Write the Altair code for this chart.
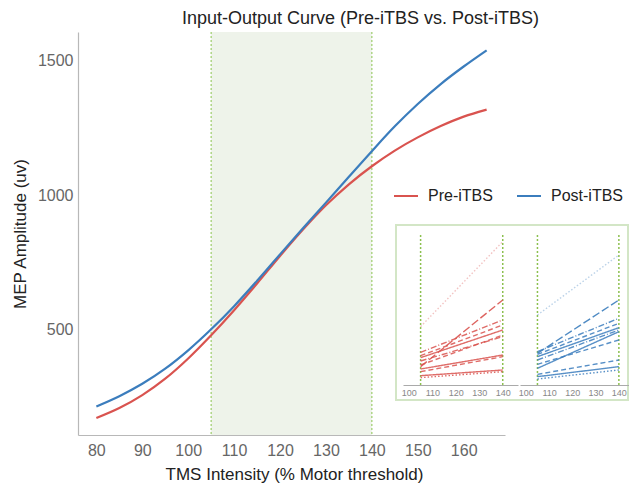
import altair as alt
import pandas as pd

# ---- main curves ----
intensity = [80, 85, 90, 95, 100, 105, 110, 115, 120, 125, 130, 135, 140, 145, 150, 155, 160, 165]
pre_mep = [173, 210, 258, 319, 394, 480, 573, 672, 774, 872, 962, 1040, 1107, 1165, 1214, 1256, 1291, 1317]
post_mep = [216, 254, 300, 356, 424, 502, 588, 682, 780, 877, 972, 1068, 1163, 1255, 1338, 1412, 1477, 1537]
conditions = ["Pre-iTBS", "Post-iTBS"]
colors = ["#d9534f", "#3b7dbd"]

# highlighted window (% MT)
window_start = [105]
window_end = [140]

# ---- inset: individual subjects, 105 -> 140 % MT (arbitrary units) ----
inset_x = [105, 140]
pre_start = [175, 55, 98, 88, 82, 72, 60, 48, 40, 28, 22]
pre_end = [430, 255, 195, 180, 165, 145, 150, 90, 85, 45, 40]
post_start = [210, 95, 100, 92, 85, 75, 62, 50, 32, 25, 18]
post_end = [390, 255, 200, 185, 172, 165, 135, 160, 75, 55, 45]
dash_style = ["dot", "longdash", "dashdot", "dash", "solid", "dashdot", "dash", "solid", "dash", "solid", "dot"]
line_alpha = [0.35, 0.9, 0.85, 0.85, 0.85, 0.85, 0.85, 0.85, 0.85, 0.85, 0.85]
inset_ticks = [100, 110, 120, 130, 140]

FONT = "Liberation Sans"
W, H = 427, 403

curves = pd.DataFrame({
    "intensity": intensity * 2,
    "mep": pre_mep + post_mep,
    "condition": [conditions[0]] * len(intensity) + [conditions[1]] * len(intensity),
})
shade_df = pd.DataFrame({"intensity": window_start, "intensity_end": window_end})
rules_df = pd.DataFrame({"intensity": window_start + window_end})

def subj_df(starts, ends):
    rows = []
    for i, (s, e) in enumerate(zip(starts, ends)):
        rows.append({"subject": i, "intensity": inset_x[0], "value": s, "dash": dash_style[i], "alpha": line_alpha[i]})
        rows.append({"subject": i, "intensity": inset_x[1], "value": e, "dash": dash_style[i], "alpha": line_alpha[i]})
    return pd.DataFrame(rows)

pre_df = subj_df(pre_start, pre_end)
post_df = subj_df(post_start, post_end)
inset_rules = pd.DataFrame({"intensity": inset_x})

x_scale = alt.Scale(domain=[76, 169], nice=False, zero=False)
y_scale = alt.Scale(domain=[110, 1605], nice=False, zero=False)
x_axis = alt.Axis(values=list(range(80, 161, 10)), title="TMS Intensity (% Motor threshold)",
                  labelFontSize=16, titleFontSize=17, labelColor="#666", titleColor="#222",
                  labelFont=FONT, titleFont=FONT, titleFontWeight="normal",
                  domainColor="#b8b8b8", domainWidth=1.2, ticks=False, grid=False,
                  labelPadding=7, titlePadding=8, titleX=216, titleAlign="center")
y_axis = alt.Axis(values=[500, 1000, 1500], format="d", title="MEP Amplitude (uv)",
                  labelFontSize=16, titleFontSize=17, labelColor="#666", titleColor="#222",
                  labelFont=FONT, titleFont=FONT, titleFontWeight="normal",
                  domainColor="#b8b8b8", domainWidth=1.2, ticks=False, grid=False,
                  labelPadding=5, titlePadding=8)

shade = alt.Chart(shade_df).mark_rect(color="#eef3ea").encode(
    x=alt.X("intensity:Q", scale=x_scale, axis=x_axis),
    x2="intensity_end:Q",
)
vrules = alt.Chart(rules_df).mark_rule(color="#9ccc6a", strokeDash=[2, 2], strokeWidth=1.2).encode(
    x=alt.X("intensity:Q", scale=x_scale, axis=x_axis),
)
lines = alt.Chart(curves).mark_line(strokeWidth=2.2, interpolate="monotone").encode(
    x=alt.X("intensity:Q", scale=x_scale, axis=x_axis),
    y=alt.Y("mep:Q", scale=y_scale, axis=y_axis),
    color=alt.Color("condition:N", sort=conditions,
                    scale=alt.Scale(domain=conditions, range=colors),
                    legend=alt.Legend(orient="none", legendX=315, legendY=151, direction="horizontal",
                                      title=None, symbolType="stroke", symbolSize=576,
                                      symbolStrokeWidth=2, labelFontSize=16, labelFont=FONT,
                                      labelColor="#222", labelOffset=9, columnPadding=20, padding=0)),
)
main = alt.layer(shade, vrules, lines)

box = alt.Chart(pd.DataFrame({"k": [0]})).mark_rect(fill="white", stroke="#d3e6c6", strokeWidth=2).encode(
    x=alt.value(318), x2=alt.value(550), y=alt.value(193), y2=alt.value(368)
)

inset_y = alt.Scale(domain=[0, 450], range=[353, 203], nice=False, zero=False)
dash_scale = alt.Scale(domain=["solid", "dash", "longdash", "dashdot", "dot"],
                       range=[[1, 0], [5, 3], [8, 3], [6, 2, 1, 2], [1.5, 2]])

def panel(df, x_range, color):
    xs = alt.Scale(domain=[97.5, 146.5], range=x_range, nice=False, zero=False)
    ax = alt.Axis(values=inset_ticks, orient="bottom", offset=-50, title=None, labelFontSize=9,
                  labelFont=FONT, labelColor="#888", domainColor="#aaa", ticks=False, grid=False,
                  labelPadding=3, zindex=2)
    r = alt.Chart(inset_rules).mark_rule(color="#8cc04f", strokeDash=[2, 2], strokeWidth=1.5).encode(
        x=alt.X("intensity:Q", scale=xs, axis=ax),
        y=alt.Y(datum=450, scale=inset_y, axis=None),
        y2=alt.Y2(datum=-5),
    )
    ln = alt.Chart(df).mark_line(color=color, strokeWidth=1.4).encode(
        x=alt.X("intensity:Q", scale=xs, axis=ax),
        y=alt.Y("value:Q", scale=inset_y, axis=None),
        detail="subject:N",
        strokeDash=alt.StrokeDash("dash:N", scale=dash_scale, legend=None),
        opacity=alt.Opacity("alpha:Q", scale=None),
    )
    return alt.layer(r, ln)

left = panel(pre_df, [325, 440], colors[0])
right = panel(post_df, [442, 556], colors[1])

chart = alt.layer(main, box, left, right).resolve_scale(x="independent", y="independent").properties(
    width=W, height=H,
    title=alt.TitleParams("Input-Output Curve (Pre-iTBS vs. Post-iTBS)", fontSize=18, font=FONT,
                          fontWeight="normal", color="#222", anchor="middle", frame="group",
                          dx=69, offset=3),
    autosize=alt.AutoSizeParams(type="none"),
    padding={"left": 70, "top": 24, "right": 124, "bottom": 51},
).configure_view(stroke=None)

chart.save("out.html", embed_options={"renderer": "svg", "actions": False})
